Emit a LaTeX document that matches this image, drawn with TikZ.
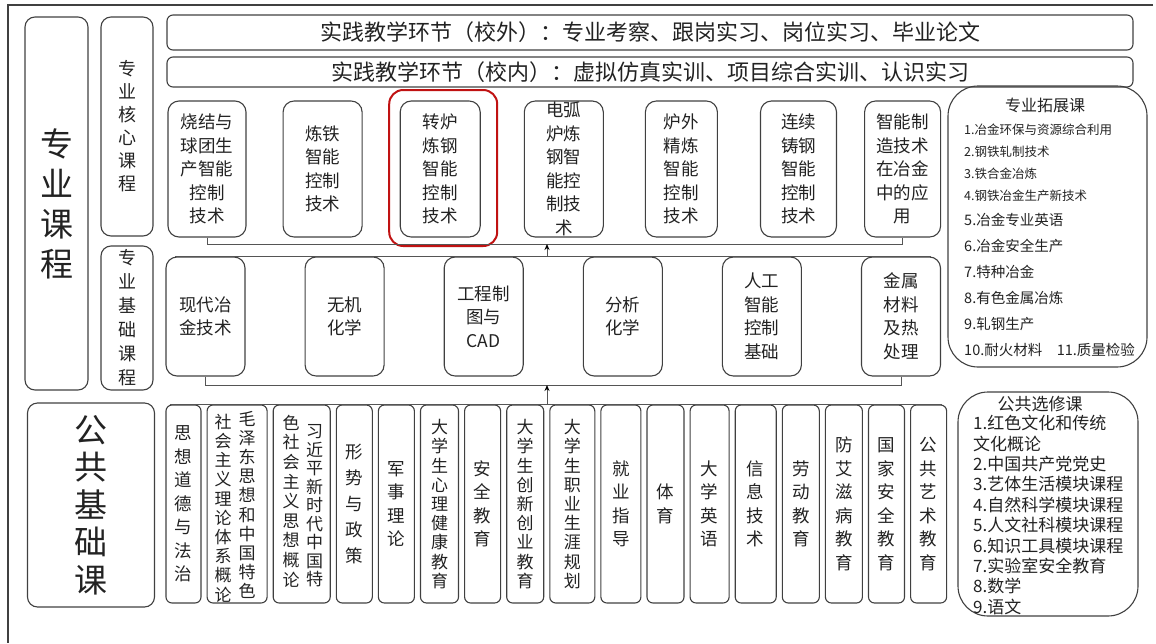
\documentclass[tikz,border=0pt]{standalone}
\usepackage{fontspec}
\setmainfont{Noto Sans CJK SC}
\usepackage{xcolor}
\definecolor{edge}{RGB}{64, 64, 64}
\definecolor{ink}{RGB}{34, 34, 34}
\definecolor{wire}{RGB}{85, 85, 85}
\definecolor{crimson}{RGB}{192, 18, 18}
\usepackage{tikz}
\usetikzlibrary{positioning, arrows.meta}
\tikzset{
  course/.style = {
    draw=edge,
    line width=1.1pt,
    rounded corners=11pt,
    align=center,
    inner sep=0pt,
    text=ink,
    font=\fontsize{17.5}{23.5}\selectfont
  },
  core/.style = {
    course,
    minimum height=136pt
  },
  basic/.style = {
    course,
    minimum width=79pt,
    minimum height=119pt
  },
  column/.style = {
    course,
    rounded corners=6pt,
    minimum height=198pt
  },
  tight/.style = {
    font=\fontsize{17}{19.2}\selectfont
  },
  vtext/.style = {
    align=center,
    inner sep=0pt,
    text=ink,
    tight
  },
  sidebox/.style = {
    course,
    rounded corners=10pt
  },
  banner/.style = {
    draw=edge,
    line width=1.1pt,
    rounded corners=6pt,
    minimum width=966pt,
    inner sep=2pt,
    text=ink,
    font=\fontsize{22}{24}\selectfont
  },
  listbox/.style = {
    draw=edge,
    line width=1.1pt,
    rounded corners=30pt
  },
  listtext/.style = {
    align=left,
    inner sep=0pt,
    text=ink,
    anchor=north west
  },
  link/.style = {
    draw=wire,
    line width=1pt
  },
  arrow/.style = {
    link,
    -{Stealth[length=6pt, width=5pt, color=black]}
  },
}

\begin{document}
\begin{tikzpicture}[x=1pt, y=-1pt]
    \useasboundingbox (0,0) rectangle (1156,643);
    \draw[edge, line width=1.4pt] (1153,5) -- (8,5) -- (8,643);

    \node[sidebox, minimum width=63pt, minimum height=373pt, font=\fontsize{33}{40}\selectfont] (major) at (56.5,203.5) {专\\业\\课\\程};
    \node[sidebox, minimum width=52pt, minimum height=219pt, font=\fontsize{18}{23}\selectfont] (coretag) at (127,126.5) {专\\业\\核\\心\\课\\程};
    \node[sidebox, minimum width=52pt, minimum height=144pt, font=\fontsize{18}{24}\selectfont] (basetag) at (127,318) {专\\业\\基\\础\\课\\程};
    \node[sidebox, minimum width=127pt, minimum height=204pt, font=\fontsize{33}{37.5}\selectfont] (public) at (91,505) {公\\共\\基\\础\\课};

    \node[banner, minimum height=35pt] (outside) at (650,32.5) {实践教学环节（校外）：专业考察、跟岗实习、岗位实习、毕业论文};
    \node[banner, minimum height=30pt] (inside) at (650,72) {实践教学环节（校内）：虚拟仿真实训、项目综合实训、认识实习};

    \node[core, minimum width=78pt] (core1) at (207,169) {烧结与\\球团生\\产智能\\控制\\技术};
    \node[core, minimum width=79pt, right=36pt of core1] (core2) {炼铁\\智能\\控制\\技术};
    \node[core, minimum width=80pt, right=37pt of core2] (core3) {转炉\\炼钢\\智能\\控制\\技术};
    \node[core, minimum width=79pt, right=43pt of core3] (core4) {电弧\\炉炼\\钢智\\能控\\制技\\术};
    \node[core, minimum width=72pt, right=41pt of core4] (core5) {炉外\\精炼\\智能\\控制\\技术};
    \node[core, minimum width=76pt, right=42pt of core5] (core6) {连续\\铸钢\\智能\\控制\\技术};
    \node[core, minimum width=76pt, right=27pt of core6] (core7) {智能制\\造技术\\在冶金\\中的应\\用};
    \node[draw=crimson, line width=2pt, rounded corners=14pt, minimum width=108pt, minimum height=156pt] (focus) at ([shift={(3,-1)}]core3.center) {};

    \node[basic] (base1) at (205.5,316.5) {现代冶\\金技术};
    \node[basic, right=59pt of base1] (base2) {无机\\化学};
    \node[basic, right=59pt of base2] (base3) {工程制\\图与\\CAD};
    \node[basic, right=59pt of base3] (base4) {分析\\化学};
    \node[basic, right=59pt of base4] (base5) {人工\\智能\\控制\\基础};
    \node[basic, right=59pt of base5] (base6) {金属\\材料\\及热\\处理};

    \node[column, minimum width=35pt] (pub1) at (183.5,504) {思\\想\\道\\德\\与\\法\\治};
    \node[column, minimum width=60pt, right=5pt of pub1] (pub2) {};
    \node[column, minimum width=57pt, right=5pt of pub2] (pub3) {};
    \node[column, minimum width=36pt, right=5pt of pub3, font=\fontsize{17.5}{26}\selectfont] (pub4) {形\\势\\与\\政\\策};
    \node[column, minimum width=36pt, right=5pt of pub4] (pub5) {军\\事\\理\\论};
    \node[column, minimum width=38pt, right=5pt of pub5, tight] (pub6) {大\\学\\生\\心\\理\\健\\康\\教\\育};
    \node[column, minimum width=36pt, right=5pt of pub6] (pub7) {安\\全\\教\\育};
    \node[column, minimum width=37pt, right=5pt of pub7, tight] (pub8) {大\\学\\生\\创\\新\\创\\业\\教\\育};
    \node[column, minimum width=45pt, right=5pt of pub8, tight] (pub9) {大\\学\\生\\职\\业\\生\\涯\\规\\划};
    \node[column, minimum width=40pt, right=5pt of pub9] (pub10) {就\\业\\指\\导};
    \node[column, minimum width=37pt, right=5pt of pub10] (pub11) {体\\育};
    \node[column, minimum width=39pt, right=5pt of pub11] (pub12) {大\\学\\英\\语};
    \node[column, minimum width=41pt, right=5pt of pub12] (pub13) {信\\息\\技\\术};
    \node[column, minimum width=37pt, right=5pt of pub13] (pub14) {劳\\动\\教\\育};
    \node[column, minimum width=37pt, right=5pt of pub14] (pub15) {防\\艾\\滋\\病\\教\\育};
    \node[column, minimum width=36pt, right=5pt of pub15] (pub16) {国\\家\\安\\全\\教\\育};
    \node[column, minimum width=36pt, right=5pt of pub16] (pub17) {公\\共\\艺\\术\\教\\育};
    \node[vtext] (pub2r) at ([shift={(10,1)}]pub2.center) {毛\\泽\\东\\思\\想\\和\\中\\国\\特\\色};
    \node[vtext] (pub2l) at ([shift={(-14,4)}]pub2.center) {社\\会\\主\\义\\理\\论\\体\\系\\概\\论};
    \node[vtext, font=\fontsize{17}{18.5}\selectfont] (pub3r) at ([shift={(13,2)}]pub3.center) {习\\近\\平\\新\\时\\代\\中\\国\\特};
    \node[vtext, font=\fontsize{17}{19.6}\selectfont] (pub3l) at ([shift={(-10.5,-3)}]pub3.center) {色\\社\\会\\主\\义\\思\\想\\概\\论};

    \node[listbox, minimum width=199pt, minimum height=281pt] (extend) at (1047.5,226.5) {};
    \node[text=ink, font=\fontsize{16}{18}\selectfont] (extendtitle) at (1045,105) {专业拓展课};
    \node[listtext, font=\fontsize{14.5}{26}\selectfont] (extendlist) at (964,124) {{\fontsize{12.5}{14}\selectfont 1.冶金环保与资源综合利用}\\[-4pt]{\fontsize{12.5}{14}\selectfont 2.钢铁轧制技术}\\[-4pt]{\fontsize{12.5}{14}\selectfont 3.铁合金冶炼}\\[-4pt]{\fontsize{12.5}{14}\selectfont 4.钢铁冶金生产新技术}\\[-1pt]5.冶金专业英语\\6.冶金安全生产\\7.特种冶金\\8.有色金属冶炼\\9.轧钢生产\\10.耐火材料\quad 11.质量检验};

    \node[listbox, minimum width=180pt, minimum height=224pt] (elective) at (1048,504) {};
    \node[text=ink, font=\fontsize{17}{19}\selectfont] (electivetitle) at (1040,404) {公共选修课};
    \node[listtext, font=\fontsize{17}{20.4}\selectfont] (electivelist) at (973,415) {1.红色文化和传统\\文化概论\\2.中国共产党党史\\3.艺体生活模块课程\\4.自然科学模块课程\\5.人文社科模块课程\\6.知识工具模块课程\\7.实验室安全教育\\8.数学\\9.语文};

    \coordinate (corejoin) at (547,244);
    \coordinate (basejoin) at (547,385);
    \draw[link] (core1.south) -- ++(0,7) -| (core7.south);
    \draw[link] ([xshift=10pt]base1.north west) -- ([xshift=-10pt]base6.north east);
    \draw[arrow] (corejoin |- base1.north) -- (corejoin);
    \draw[link] (base1.south) -- ++(0,9) -| (base6.south);
    \draw[link] ([xshift=5pt]pub1.north west) -- ([xshift=-5pt]pub17.north east);
    \draw[arrow] (basejoin |- pub1.north) -- (basejoin);
\end{tikzpicture}
\end{document}
